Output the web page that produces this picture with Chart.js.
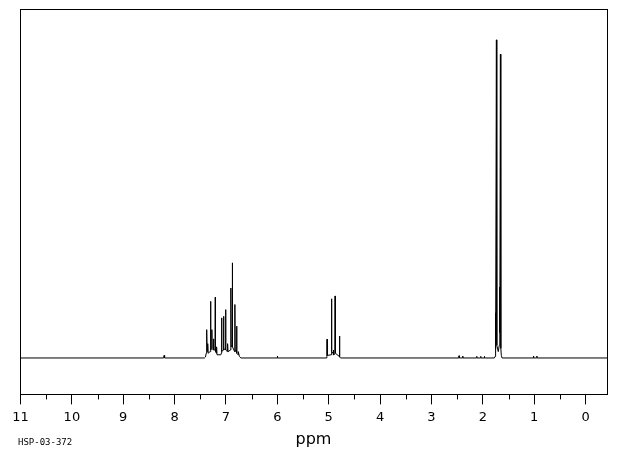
<!DOCTYPE html>
<html>
<head>
<meta charset="utf-8">
<script src="https://cdn.jsdelivr.net/npm/chart.js@4.4.1/dist/chart.umd.min.js"></script>
<style>
html,body{margin:0;padding:0;background:#fff;}
#wrap{width:620px;height:455px;}
</style>
</head>
<body>
<div id="wrap"><canvas id="c" width="620" height="455"></canvas></div>
<script>
// Spectrum trace (chemical shift in ppm, relative intensity)
const tracePpm = [
  11.0,
  8.215, 8.205, 8.195,
  7.42, 7.40, 7.385, 7.378, 7.373, 7.368, 7.358, 7.353, 7.348,
  7.310, 7.301, 7.294, 7.280, 7.275, 7.270, 7.246, 7.242, 7.238,
  7.214, 7.209, 7.204, 7.186, 7.183, 7.175,
  7.10, 7.092, 7.086, 7.080, 7.052, 7.047, 7.042, 7.014, 7.008, 7.002,
  6.973, 6.969, 6.960, 6.912, 6.905, 6.899, 6.881, 6.877, 6.872,
  6.832, 6.827, 6.821, 6.797, 6.793, 6.787, 6.765, 6.760, 6.74, 6.71,
  6.005, 6.000, 5.995,
  5.05, 5.037, 5.032, 5.027, 4.955, 4.946, 4.940, 4.915, 4.910, 4.905,
  4.881, 4.876, 4.870, 4.795, 4.790, 4.785, 4.77,
  2.468, 2.463, 2.458, 2.395, 2.390, 2.385,
  2.123, 2.118, 2.113, 2.045, 2.040, 2.035, 1.975, 1.970, 1.965,
  1.775, 1.762, 1.755, 1.748, 1.736, 1.728, 1.700, 1.680, 1.673, 1.667,
  1.658, 1.650, 1.64, 1.625,
  1.019, 1.014, 1.009, 0.953, 0.948, 0.943,
  -0.42
];
const traceIntensity = [
  0,
  0, 0.8, 0,
  0, 0.3, 1.5, 2.5, 8.9, 2.5, 2, 4.5, 1.5,
  2, 17.8, 2.5, 3, 8.9, 3, 2.5, 6, 2.5,
  2.5, 19.1, 2, 1.5, 3.5, 1,
  1, 1.5, 12.6, 2, 2.5, 13.1, 2.5, 3, 15.2, 2.5,
  2, 4.5, 2, 2.5, 22, 3.5, 4, 29.9, 3.5,
  2, 16.8, 2, 2.5, 10, 1.5, 1, 2, 0.5, 0,
  0, 0.6, 0,
  0, 0.5, 5.9, 0.8, 1, 18.6, 2, 1.5, 2.5, 1,
  1.2, 19.5, 1.5, 0.5, 6.9, 0.3, 0,
  0, 0.7, 0, 0, 0.6, 0,
  0, 0.5, 0, 0, 0.5, 0, 0, 0.5, 0,
  0, 0.5, 14.2, 3, 100, 4, 2, 4, 22.3, 8,
  95.5, 3, 0.8, 0,
  0, 0.6, 0, 0, 0.6, 0,
  0
];
// Axis tick labels
const majorTicks = [11, 10, 9, 8, 7, 6, 5, 4, 3, 2, 1, 0];
const minorTicks = [10.5, 9.5, 8.5, 7.5, 6.5, 5.5, 4.5, 3.5, 2.5, 1.5, 0.5];
const axisTitle = 'ppm';
const sampleId = 'HSP-03-372';

const points = tracePpm.map((p, i) => ({x: p, y: traceIntensity[i]}));

const framePlugin = {
  id: 'frame',
  afterDraw(chart) {
    const ctx = chart.ctx;
    const a = chart.chartArea;
    const xs = chart.scales.x;
    ctx.save();
    ctx.strokeStyle = '#000';
    ctx.lineWidth = 1;
    ctx.strokeRect(Math.round(a.left) + 0.5, Math.round(a.top) + 0.5,
                   Math.round(a.right - a.left), Math.round(a.bottom - a.top));
    ctx.beginPath();
    minorTicks.forEach(v => {
      const px = Math.round(xs.getPixelForValue(v)) + 0.5;
      ctx.moveTo(px, a.bottom);
      ctx.lineTo(px, a.bottom + 5);
    });
    ctx.stroke();
    ctx.fillStyle = '#000';
    ctx.textBaseline = 'middle';
    ctx.textAlign = 'center';
    ctx.font = '16px "DejaVu Sans"';
    ctx.fillText(axisTitle, (a.left + a.right) / 2, 440);
    ctx.font = '9px "DejaVu Sans Mono"';
    ctx.textAlign = 'left';
    ctx.fillText(sampleId, 18, 443);
    ctx.restore();
  }
};

new Chart(document.getElementById('c'), {
  type: 'line',
  data: {
    datasets: [{
      data: points,
      borderColor: '#000',
      borderWidth: 1,
      pointRadius: 0,
      tension: 0,
      fill: false
    }]
  },
  options: {
    responsive: false,
    animation: false,
    layout: {padding: {left: 20, right: 13, top: 9, bottom: 25}},
    plugins: {legend: {display: false}, tooltip: {enabled: false}},
    scales: {
      x: {
        type: 'linear',
        reverse: true,
        min: -0.417,
        max: 11.01,
        afterBuildTicks: (s) => { s.ticks = majorTicks.map(v => ({value: v})); },
        ticks: {
          color: '#000',
          font: {family: 'DejaVu Sans', size: 13},
          padding: 5,
          maxRotation: 0,
          autoSkip: false,
          callback: (v) => String(v)
        },
        grid: {display: true, drawOnChartArea: false, drawTicks: true, tickLength: 10, color: '#000'},
        border: {display: true, color: '#000'},
        title: {display: false}
      },
      y: {
        display: false,
        min: -11.45,
        max: 109.7
      }
    }
  },
  plugins: [framePlugin]
});
</script>
</body>
</html>
